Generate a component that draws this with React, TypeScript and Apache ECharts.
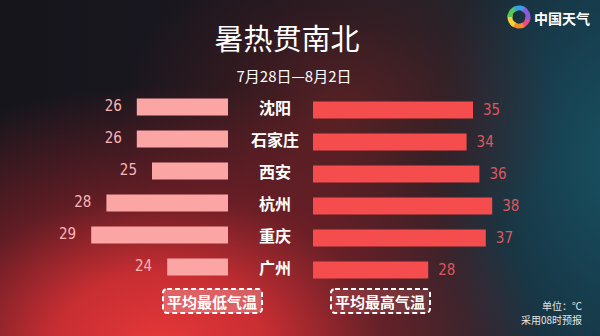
import React, { useEffect, useRef } from "react";
import * as echarts from "echarts";

const cities = ["沈阳", "石家庄", "西安", "杭州", "重庆", "广州"];
const lowTemps = [26, 26, 25, 28, 29, 24];
const highTemps = [35, 34, 36, 38, 37, 28];
const titleText = "暑热贯南北";
const subtitleText = "7月28日—8月2日";
const legendLow = "平均最低气温";
const legendHigh = "平均最高气温";
const unitText = "单位：℃";
const noteText = "采用08时预报";
const brandText = "中国天气";

const FONT = '"Noto Sans CJK SC", "Noto Sans", sans-serif';
const NUM_FONT = '"Liberation Sans Narrow", "DejaVu Sans Condensed", Roboto, sans-serif';

export default function App() {
  const ref = useRef<HTMLDivElement>(null);
  useEffect(() => {
    document.body.style.margin = "0";
    const chart = echarts.init(ref.current!, undefined, { renderer: "svg" });
    const swirlColors = ["#e94b8a", "#f28a2e", "#f5d23a", "#5cc35a", "#3aa0e0", "#8a5ad8"];
    const swirl: any[] = swirlColors.map((c, i) => ({
      type: "arc",
      shape: {
        cx: 519,
        cy: 17,
        r: 9,
        startAngle: (i * Math.PI) / 3,
        endAngle: (i * Math.PI) / 3 + Math.PI / 2.4,
      },
      style: { stroke: c, lineWidth: 5, fill: "none" },
    }));
    chart.setOption({
      animation: false,
      backgroundColor: "transparent",
      grid: [
        { left: 76, width: 152, top: 91, height: 192 },
        { left: 313, width: 192, top: 94, height: 192 },
      ],
      xAxis: [
        { gridIndex: 0, type: "value", min: 20, max: 30, inverse: true, show: false },
        { gridIndex: 1, type: "value", min: 10, max: 40, show: false },
      ],
      yAxis: [
        {
          gridIndex: 0,
          type: "category",
          data: cities,
          inverse: true,
          position: "right",
          axisLine: { show: false },
          axisTick: { show: false },
          splitLine: { show: false },
          axisLabel: {
            margin: 47,
            align: "center",
            color: "#ffffff",
            fontSize: 16,
            fontWeight: "bold",
            fontFamily: FONT,
          },
        },
        {
          gridIndex: 1,
          type: "category",
          data: cities,
          inverse: true,
          show: false,
        },
      ],
      series: [
        {
          type: "bar",
          xAxisIndex: 0,
          yAxisIndex: 0,
          data: lowTemps,
          barWidth: 17,
          itemStyle: { color: "#fba5a5" },
          label: {
            show: true,
            position: "left",
            distance: 15,
            offset: [0, -1],
            color: "#f7b6b6",
            fontSize: 15,
            fontFamily: NUM_FONT,
          },
        },
        {
          type: "bar",
          xAxisIndex: 1,
          yAxisIndex: 1,
          data: highTemps,
          barWidth: 17,
          itemStyle: { color: "#f54d4d" },
          label: {
            show: true,
            position: "right",
            distance: 10,
            color: "#df575b",
            fontSize: 15,
            fontFamily: NUM_FONT,
          },
        },
      ],
      graphic: [
        {
          type: "text",
          x: 287,
          y: 37,
          style: {
            text: titleText,
            fill: "#ffffff",
            font: `29px ${FONT}`,
            align: "center",
            verticalAlign: "middle",
          },
        },
        {
          type: "text",
          x: 294,
          y: 75,
          style: {
            text: subtitleText,
            fill: "#ffffff",
            font: `15px ${FONT}`,
            align: "center",
            verticalAlign: "middle",
          },
        },
        {
          type: "rect",
          shape: { x: 163, y: 289, width: 99, height: 24, r: 4 },
          style: {
            fill: "rgba(255,200,200,0.33)",
            stroke: "#ffffff",
            lineWidth: 2,
            lineDash: [5, 3],
          },
        },
        {
          type: "text",
          x: 212,
          y: 301,
          style: {
            text: legendLow,
            fill: "#ffffff",
            font: `bold 15px ${FONT}`,
            align: "center",
            verticalAlign: "middle",
          },
        },
        {
          type: "rect",
          shape: { x: 331, y: 289, width: 99, height: 24, r: 4 },
          style: {
            fill: "rgba(255,140,140,0.18)",
            stroke: "#ffffff",
            lineWidth: 2,
            lineDash: [5, 3],
          },
        },
        {
          type: "text",
          x: 380,
          y: 301,
          style: {
            text: legendHigh,
            fill: "#ffffff",
            font: `bold 15px ${FONT}`,
            align: "center",
            verticalAlign: "middle",
          },
        },
        {
          type: "text",
          x: 582,
          y: 305,
          style: {
            text: unitText,
            fill: "#e6e6e6",
            font: `10px ${FONT}`,
            align: "right",
            verticalAlign: "middle",
          },
        },
        {
          type: "text",
          x: 582,
          y: 319,
          style: {
            text: noteText,
            fill: "#e6e6e6",
            font: `10px ${FONT}`,
            align: "right",
            verticalAlign: "middle",
          },
        },
        ...swirl,
        {
          type: "text",
          x: 534,
          y: 18,
          style: {
            text: brandText,
            fill: "#ffffff",
            font: `bold 14px ${FONT}`,
            align: "left",
            verticalAlign: "middle",
          },
        },
      ],
    });
    return () => chart.dispose();
  }, []);
  return (
    <div
      style={{
        position: "fixed",
        left: 0,
        top: 0,
        width: 600,
        height: 336,
        background:
          "radial-gradient(ellipse 380px 260px at 160px 345px, rgba(230,55,57,1) 0%, rgba(214,48,52,0.92) 28%, rgba(160,34,42,0.55) 58%, rgba(0,0,0,0) 100%)," +
          "radial-gradient(ellipse 220px 180px at 340px 115px, rgba(105,34,36,0.8) 0%, rgba(80,28,32,0.4) 55%, rgba(0,0,0,0) 100%)," +
          "radial-gradient(ellipse 180px 280px at 615px 160px, rgba(24,80,96,1) 0%, rgba(24,70,88,0.7) 45%, rgba(0,0,0,0) 100%)," +
          "linear-gradient(90deg, #16151c 0%, #1a1820 45%, #1f2229 70%, #14303e 100%)",
      }}
    >
      <div ref={ref} style={{ width: 600, height: 336 }} />
    </div>
  );
}
